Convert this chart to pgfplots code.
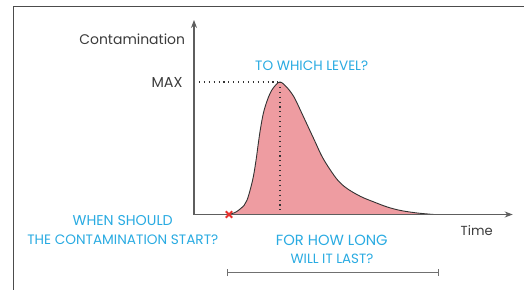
\documentclass[border=0pt]{standalone}
\usepackage{fontspec}
\setmainfont{Poppins}
\usepackage{pgfplots}
\usepackage{pgfplotstable}
\pgfplotsset{compat=1.18}
\usetikzlibrary{arrows.meta}
\definecolor{qblue}{HTML}{29ABE2}
\definecolor{qpink}{HTML}{EE9CA1}
\definecolor{qred}{HTML}{E8302C}
\definecolor{qaxis}{HTML}{5E5E5E}
\definecolor{qtext}{HTML}{3C3C3C}
\definecolor{qcurve}{HTML}{333333}
\definecolor{qbar}{HTML}{707070}
\newcommand{\fitw}[2]{\resizebox{#1}{!}{#2}}

% contamination curve (time offset, level; MAX = 132.5)
\pgfplotstableread{
x y
34.5 0
42 2.5
50 9
53 14.3
56 24
59.3 37.6
62 54
64.3 71
66.5 86
69.3 101
72.5 112
76 121
80 127.5
86 132.5
93 127
100 117.5
107 103
114 88
121 73
128 58
136 45
144 34
153 26
166.7 18
180 12.5
193.3 7.5
206.7 4
223.3 1.5
240 0
}\curve

\begin{document}
\begin{tikzpicture}[x=1pt,y=1pt]
\useasboundingbox (0,0) rectangle (524,289);
\fill[white] (0,0) rectangle (524,289);
\draw[line width=1.6pt, color=black!70] (13.3,-2) -- (13.3,282.3) -- (526,282.3);
\begin{axis}[
  at={(194pt,74.5pt)}, anchor=south west,
  scale only axis, width=318.7pt, height=194.5pt,
  xmin=0, xmax=318.7, ymin=0, ymax=194.5,
  axis x line=bottom, axis y line=left,
  axis line style={qaxis, line width=1.1pt, -{Stealth[length=8pt,width=6pt]}},
  xtick=\empty, ytick={132.5}, yticklabels={\fitw{31pt}{MAX}},
  major tick length=0pt,
  yticklabel style={inner sep=0pt, xshift=-11.3pt, text=qtext},
  axis on top, clip=false,
]
\addplot[draw=none, fill=qpink, smooth, tension=0.55] table {\curve} \closedcycle;
\addplot[qcurve, line width=0.9pt, smooth, tension=0.55] table {\curve};
\addplot[qcurve, line width=1.1pt, dash pattern=on 1.1pt off 3.8pt] coordinates {(0,132.5) (86,132.5)};
\addplot[qcurve, line width=1.1pt, dash pattern=on 1.1pt off 3.8pt] coordinates {(86,132.5) (86,0)};
\addplot[only marks, mark=x, mark size=4.5pt, qred, line width=2pt] coordinates {(35,0)};
\end{axis}
\draw[qbar, line width=1.3pt, {Bar[width=7pt]}-{Bar[width=7pt]}] (227,16.4) -- (439.3,16.4);
\node[text=qtext, inner sep=0pt] at (132.2,249.3) {\fitw{105.7pt}{Contamination}};
\node[text=qtext, inner sep=0pt] at (476.7,58.3) {\fitw{32pt}{Time}};
\node[text=qblue, inner sep=0pt] at (311.7,223.7) {\fitw{113pt}{TO WHICH LEVEL?}};
\node[text=qblue, inner sep=0pt] at (122.7,68) {\fitw{100pt}{WHEN SHOULD}};
\node[text=qblue, inner sep=0pt] at (122.8,49.7) {\fitw{191pt}{THE CONTAMINATION START?}};
\node[text=qblue, inner sep=0pt] at (331.8,49) {\fitw{111.7pt}{FOR HOW LONG}};
\node[text=qblue, inner sep=0pt] at (332,30.4) {\fitw{82.7pt}{WILL IT LAST?}};
\end{tikzpicture}
\end{document}
